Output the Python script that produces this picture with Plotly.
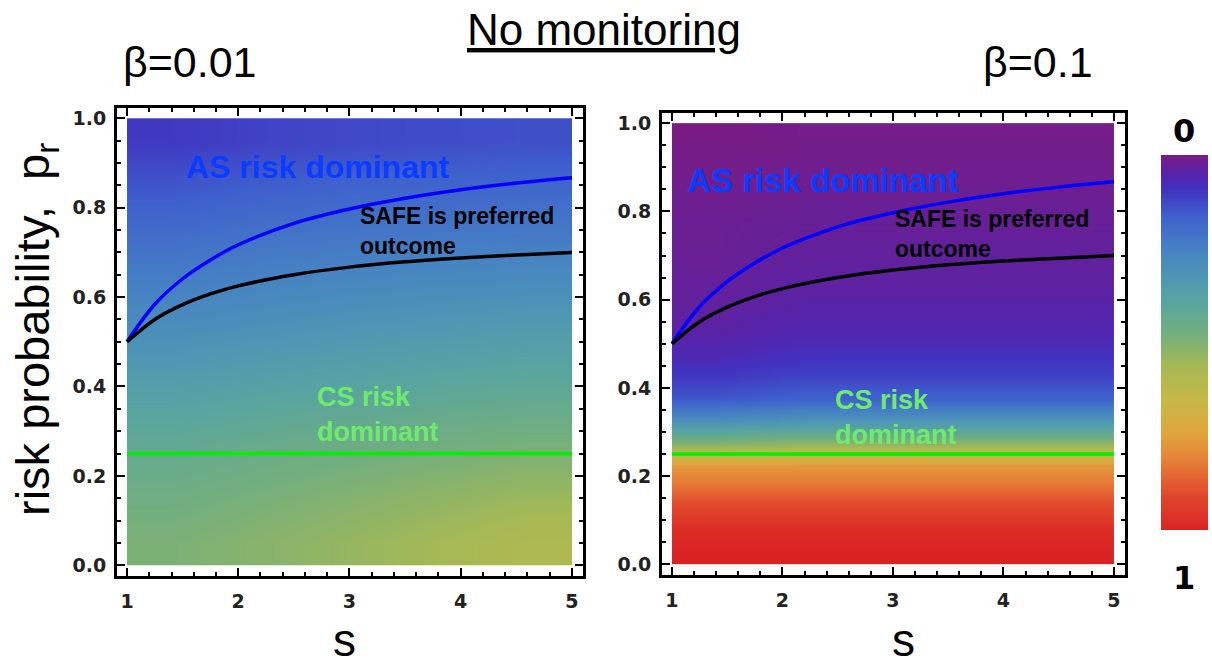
import plotly.graph_objects as go

# colour bar: 0 = purple (top), 1 = red (bottom)
rainbow = [
    [0.00, 'rgb(120,28,132)'],
    [0.05, 'rgb(85,35,170)'],
    [0.09, 'rgb(65,50,192)'],
    [0.16, 'rgb(62,95,205)'],
    [0.25, 'rgb(70,130,195)'],
    [0.32, 'rgb(78,150,180)'],
    [0.39, 'rgb(88,165,160)'],
    [0.475, 'rgb(115,175,125)'],
    [0.56, 'rgb(165,185,85)'],
    [0.65, 'rgb(198,185,72)'],
    [0.74, 'rgb(225,165,60)'],
    [0.81, 'rgb(230,130,55)'],
    [0.90, 'rgb(225,75,45)'],
    [1.00, 'rgb(217,35,35)'],
]

# cell edges of the density maps
s_edges = [1.0, 1.8, 2.6, 3.4, 4.2, 5.0]
left_p_edges = [0.0, 0.1, 0.2, 0.3, 0.4, 0.5, 0.6, 0.7, 0.8, 0.9, 1.0]
right_p_edges = [0.0, 0.05, 0.1, 0.15, 0.2, 0.25, 0.3, 0.35, 0.4, 0.45, 0.5,
                 0.55, 0.6, 0.65, 0.7, 0.75, 0.8, 0.85, 0.9, 0.95, 1.0]

# beta = 0.01, rows from p=0 upwards
left_z = [
    [0.49, 0.51, 0.535, 0.56, 0.585],
    [0.465, 0.485, 0.505, 0.525, 0.545],
    [0.43, 0.45, 0.465, 0.48, 0.495],
    [0.385, 0.40, 0.415, 0.43, 0.44],
    [0.33, 0.345, 0.36, 0.375, 0.385],
    [0.28, 0.295, 0.31, 0.32, 0.33],
    [0.235, 0.25, 0.26, 0.27, 0.275],
    [0.19, 0.205, 0.215, 0.22, 0.225],
    [0.145, 0.16, 0.17, 0.175, 0.18],
    [0.10, 0.115, 0.125, 0.13, 0.135],
]

# beta = 0.1, rows from p=0 upwards
right_z = [
    [1.00, 1.00, 1.00, 1.00, 1.00],
    [0.98, 0.98, 0.98, 0.98, 0.98],
    [0.92, 0.92, 0.92, 0.92, 0.92],
    [0.84, 0.84, 0.84, 0.84, 0.84],
    [0.76, 0.76, 0.76, 0.76, 0.76],
    [0.50, 0.52, 0.52, 0.52, 0.52],
    [0.30, 0.32, 0.32, 0.32, 0.32],
    [0.15, 0.17, 0.17, 0.17, 0.17],
    [0.10, 0.12, 0.12, 0.12, 0.12],
    [0.065, 0.085, 0.085, 0.085, 0.085],
    [0.045, 0.06, 0.06, 0.06, 0.06],
    [0.035, 0.05, 0.05, 0.05, 0.05],
    [0.03, 0.04, 0.04, 0.04, 0.04],
    [0.025, 0.035, 0.035, 0.035, 0.035],
    [0.02, 0.03, 0.03, 0.03, 0.03],
    [0.02, 0.025, 0.025, 0.025, 0.025],
    [0.015, 0.02, 0.02, 0.02, 0.02],
    [0.01, 0.015, 0.015, 0.015, 0.015],
    [0.005, 0.01, 0.01, 0.01, 0.01],
    [0.0, 0.005, 0.005, 0.005, 0.005],
]

# boundary curves
curve_s = [1.0, 1.25, 1.5, 1.75, 2.0, 2.5, 3.0, 3.5, 4.0, 4.5, 5.0]
as_boundary = [0.50, 0.584, 0.641, 0.683, 0.717, 0.765, 0.797, 0.821, 0.84, 0.855, 0.867]
safe_boundary = [0.50, 0.55, 0.583, 0.607, 0.625, 0.65, 0.667, 0.679, 0.6875, 0.694, 0.70]
cs_s = [1.0, 5.0]
cs_boundary = [0.25, 0.25]

cbar_levels = [i / 100 for i in range(101)]

W, H = 1212, 667
MAIN_FONT = 'Liberation Sans, Arial, sans-serif'
TICK_FONT = dict(family='DejaVu Sans, sans-serif', size=19, color='#222', weight='bold')

fig = go.Figure()

panels = [('x', 'y', left_p_edges, left_z), ('x2', 'y2', right_p_edges, right_z)]
for xa, ya, p_edges, z in panels:
    fig.add_trace(go.Heatmap(x=s_edges, y=p_edges, z=z, zmin=0, zmax=1,
                             colorscale=rainbow, zsmooth='best', showscale=False,
                             xaxis=xa, yaxis=ya, hoverinfo='skip'))
    fig.add_trace(go.Scatter(x=curve_s, y=as_boundary, mode='lines',
                             line=dict(color='rgb(0,0,255)', width=3.5, shape='spline'),
                             xaxis=xa, yaxis=ya, showlegend=False))
    fig.add_trace(go.Scatter(x=curve_s, y=safe_boundary, mode='lines',
                             line=dict(color='black', width=3.5, shape='spline'),
                             xaxis=xa, yaxis=ya, showlegend=False))
    fig.add_trace(go.Scatter(x=cs_s, y=cs_boundary, mode='lines',
                             line=dict(color='rgb(0,240,0)', width=3.5),
                             xaxis=xa, yaxis=ya, showlegend=False))

# colour legend strip
fig.add_trace(go.Heatmap(x=[0, 1], y=cbar_levels, z=[[v, v] for v in cbar_levels],
                         zmin=0, zmax=1, colorscale=rainbow, zsmooth='best',
                         showscale=False, xaxis='x3', yaxis='y3', hoverinfo='skip'))


def xax(domain):
    return dict(domain=domain, range=[0.91, 5.1], tickvals=[1, 2, 3, 4, 5],
                ticks='inside', ticklen=8, tickwidth=2, tickcolor='black',
                minor=dict(dtick=0.2, ticks='inside', ticklen=4, tickwidth=2, tickcolor='black'),
                showline=True, linewidth=3, linecolor='black', mirror='ticks',
                showgrid=False, zeroline=False, tickfont=TICK_FONT, ticklabelstandoff=6)


def yax(domain, anchor):
    return dict(domain=domain, range=[-0.024, 1.023], tickvals=[0, 0.2, 0.4, 0.6, 0.8, 1.0],
                tickformat='.1f', anchor=anchor,
                ticks='inside', ticklen=8, tickwidth=2, tickcolor='black',
                minor=dict(dtick=0.05, ticks='inside', ticklen=4, tickwidth=2, tickcolor='black'),
                showline=True, linewidth=3, linecolor='black', mirror='ticks',
                showgrid=False, zeroline=False, tickfont=TICK_FONT, ticklabelstandoff=4)


xa1 = xax([117 / W, 583 / W]); xa1['anchor'] = 'y'
xa2 = xax([662 / W, 1125 / W]); xa2['anchor'] = 'y2'
fig.update_layout(
    width=W, height=H,
    margin=dict(l=0, r=0, t=0, b=0),
    paper_bgcolor='white', plot_bgcolor='white',
    showlegend=False,
    xaxis=xa1,
    yaxis=yax([1 - 576 / H, 1 - 108 / H], 'x'),
    xaxis2=xa2,
    yaxis2=yax([1 - 575 / H, 1 - 113 / H], 'x2'),
    xaxis3=dict(domain=[1161 / W, 1208 / W], anchor='y3', visible=False, range=[0, 1]),
    yaxis3=dict(domain=[1 - 530 / H, 1 - 155 / H], anchor='x3', visible=False,
                range=[1, 0]),
)

notes = [
    # figure texts (paper coordinates)
    dict(text='No monitoring', x=604 / W, y=1 - 30 / H, xref='paper', yref='paper',
         font=dict(family=MAIN_FONT, size=44, color='black', lineposition='under')),
    dict(text='β=0.01', x=190 / W, y=1 - 62 / H, xref='paper', yref='paper',
         font=dict(family=MAIN_FONT, size=43, color='black')),
    dict(text='β=0.1', x=1038 / W, y=1 - 62 / H, xref='paper', yref='paper',
         font=dict(family=MAIN_FONT, size=43, color='black')),
    dict(text='risk probability,  p<sub>r</sub>', x=36 / W, y=1 - 330 / H,
         xref='paper', yref='paper', textangle=-90,
         font=dict(family=MAIN_FONT, size=47, color='black')),
    dict(text='s', x=345 / W, y=1 - 640 / H, xref='paper', yref='paper',
         font=dict(family=MAIN_FONT, size=46, color='black')),
    dict(text='s', x=903 / W, y=1 - 640 / H, xref='paper', yref='paper',
         font=dict(family=MAIN_FONT, size=46, color='black')),
    dict(text='<b>0</b>', x=1184 / W, y=1 - 131 / H, xref='paper', yref='paper',
         font=dict(family='DejaVu Sans, sans-serif', size=32, color='black')),
    dict(text='<b>1</b>', x=1184 / W, y=1 - 578 / H, xref='paper', yref='paper',
         font=dict(family='DejaVu Sans, sans-serif', size=32, color='black')),
    # in-panel labels (data coordinates)
    dict(text='<b>AS risk dominant</b>', x=2.72, y=0.892, xref='x', yref='y',
         font=dict(family=MAIN_FONT, size=32, color='rgb(10,60,255)')),
    dict(text='<b>SAFE is preferred<br>outcome</b>', x=3.08, y=0.747, xref='x', yref='y',
         xanchor='left', align='left',
         font=dict(family=MAIN_FONT, size=23, color='black')),
    dict(text='<b>CS risk<br>dominant</b>', x=2.69, y=0.337, xref='x', yref='y',
         xanchor='left', align='left',
         font=dict(family=MAIN_FONT, size=27, color='rgb(110,235,110)')),
    dict(text='<b>AS risk dominant</b>', x=2.365, y=0.871, xref='x2', yref='y2',
         font=dict(family=MAIN_FONT, size=33, color='rgb(10,60,255)')),
    dict(text='<b>SAFE is preferred<br>outcome</b>', x=3.0, y=0.748, xref='x2', yref='y2',
         xanchor='left', align='left',
         font=dict(family=MAIN_FONT, size=23, color='black')),
    dict(text='<b>CS risk<br>dominant</b>', x=2.46, y=0.334, xref='x2', yref='y2',
         xanchor='left', align='left',
         font=dict(family=MAIN_FONT, size=27, color='rgb(110,235,110)')),
]
for n in notes:
    n.setdefault('showarrow', False)
    n.setdefault('xanchor', 'center')
    n.setdefault('yanchor', 'middle')
    fig.add_annotation(**n)

fig.write_html("out.html", config={'displayModeBar': False},
               post_script="document.body.style.margin = '0';")
